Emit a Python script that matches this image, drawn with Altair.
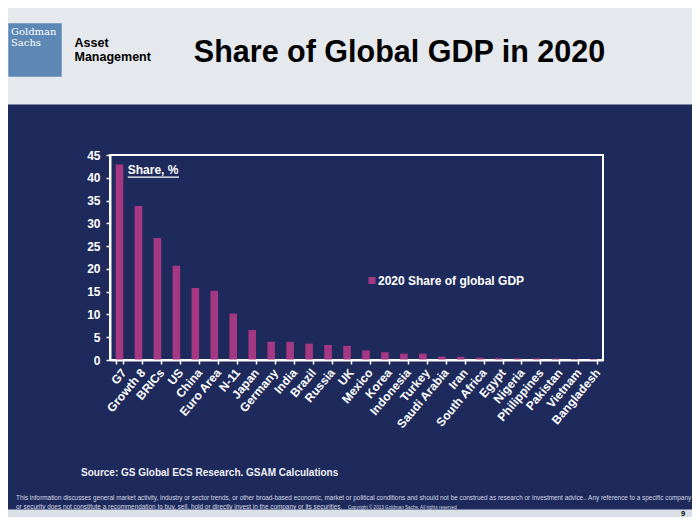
import altair as alt
import pandas as pd

# ---------------- data ----------------
categories = ["G7", "Growth 8", "BRICs", "US", "China", "Euro Area", "N-11", "Japan",
              "Germany", "India", "Brazil", "Russia", "UK", "Mexico", "Korea", "Indonesia",
              "Turkey", "Saudi Arabia", "Iran", "South Africa", "Egypt", "Nigeria",
              "Philippines", "Pakistan", "Vietnam", "Bangladesh"]
shares = [42.9, 33.8, 26.8, 20.7, 15.8, 15.2, 10.2, 6.6,
          4.0, 4.0, 3.6, 3.3, 3.1, 2.1, 1.7, 1.4,
          1.4, 0.75, 0.7, 0.5, 0.4, 0.35,
          0.35, 0.3, 0.2, 0.2]
series_name = "2020 Share of global GDP"
y_ticks = [0, 5, 10, 15, 20, 25, 30, 35, 40, 45]

title_text = "Share of Global GDP in 2020"
axis_note = "Share, %"
source_text = "Source: GS Global ECS Research. GSAM Calculations"
disclaimer_1 = ("This information discusses general market activity, industry or sector trends, or other "
                "broad-based economic, market or political conditions and should not be construed as "
                "research or investment advice.. Any reference to a specific company")
disclaimer_2 = ("or security does not constitute a recommendation to buy, sell, hold or directly invest "
                "in the company or its securities.")
copyright_text = "Copyright \u00a9 2013 Goldman Sachs. All rights reserved"
page_number = "9"

df = pd.DataFrame({"country": categories, "share": shares, "series": series_name})
one = pd.DataFrame({"k": [0]})

# ---------------- style ----------------
NAVY = "#1e2a5c"
HEADER = "#e5e8ec"
STRIP = "#d9e0e7"
LOGO = "#5d88b5"
BAR = "#a63883"
FONT = "Liberation Sans"

OX, OY = 110, 155          # page position of plot origin
PW, PH = 493, 205          # plot area size
CW, CH = 684, 509          # whole chart size


def px(v):
    return alt.value(v - OX)


def py(v):
    return alt.value(v - OY)


def rect(x0, x1, y0, y1, color):
    return alt.Chart(one).mark_rect(color=color).encode(
        x=px(x0), x2=px(x1), y=py(y0), y2=py(y1))


def txt(s, x, y, size, color, weight="normal", align="left", font=FONT):
    return alt.Chart(one).mark_text(
        text=s, align=align, baseline="alphabetic", fontSize=size,
        fontWeight=weight, color=color, font=font
    ).encode(x=px(x), y=py(y))


header = rect(0, 700, 0, 104.5, HEADER)
logo = rect(8.3, 61.7, 23.3, 76.7, LOGO)

bars = alt.Chart(df).mark_bar().encode(
    x=alt.X("country:N", sort=categories,
            scale=alt.Scale(paddingInner=0.6, paddingOuter=0.3),
            axis=alt.Axis(title=None, labelAngle=-50, labelAlign="right",
                          labelBaseline="middle", labelPadding=6, labelOffset=4,
                          tickBand="extent", tickSize=4, tickWidth=1.5,
                          tickColor="white", domainColor="white", domainWidth=2,
                          labelColor="white", labelFont=FONT, labelFontSize=12,
                          labelFontWeight="bold", zindex=1)),
    y=alt.Y("share:Q", scale=alt.Scale(domain=[0, 45], nice=False),
            axis=alt.Axis(title=None, values=y_ticks, grid=False, tickSize=4,
                          tickWidth=1.5, tickColor="white", domainColor="white",
                          domainWidth=2, labelColor="white", labelFont=FONT,
                          labelFontSize=12, labelFontWeight="bold",
                          labelPadding=6, zindex=1)),
    color=alt.Color("series:N",
                    scale=alt.Scale(domain=[series_name], range=[BAR]),
                    legend=alt.Legend(title=None, orient="none",
                                      legendX=366 - OX, legendY=274.5 - OY,
                                      symbolType="square", symbolSize=49,
                                      symbolStrokeWidth=0, labelColor="white",
                                      labelFont=FONT, labelFontSize=12,
                                      labelFontWeight="bold", labelOffset=0,
                                      padding=0)),
)

underline = alt.Chart(one).mark_rule(color="white", strokeWidth=1.2).encode(
    x=px(127.7), x2=px(179), y=py(177.2))

strip = rect(0, 700, 509.5, 525, STRIP)

layers = [
    header, logo,
    txt("Goldman", 11.0, 34.6, 10, "white", font="DejaVu Serif"),
    txt("Sachs", 11.0, 46.4, 10, "white", font="DejaVu Serif"),
    txt("Asset", 74.5, 46.7, 12.5, "black", "bold"),
    txt("Management", 74.5, 60.5, 12.5, "black", "bold"),
    txt(title_text, 399.5, 62.3, 30.5, "black", "bold", align="center"),
    bars,
    txt(axis_note, 127.7, 174.3, 12, "white", "bold"),
    underline,
    txt(source_text, 81, 476.3, 10, "#eeeef4", "bold"),
    txt(disclaimer_1, 16, 500.3, 6.4, "#d4d7e3"),
    txt(disclaimer_2, 16, 509.3, 6.4, "#d4d7e3"),
    txt(copyright_text, 348, 509.3, 4.6, "#d4d7e3"),
    strip,
    txt(page_number, 681, 515.8, 7.5, "black", "bold"),
]

chart = alt.layer(*layers).properties(
    width=PW, height=PH,
    padding={"left": OX - 8, "top": OY - 8,
             "right": CW - (OX - 8) - PW, "bottom": CH - (OY - 8) - PH},
    autosize=alt.AutoSizeParams(type="none"),
    background=NAVY,
).configure_view(stroke="white", strokeWidth=2)

chart.save("out.html", embed_options={"renderer": "svg", "actions": False})
